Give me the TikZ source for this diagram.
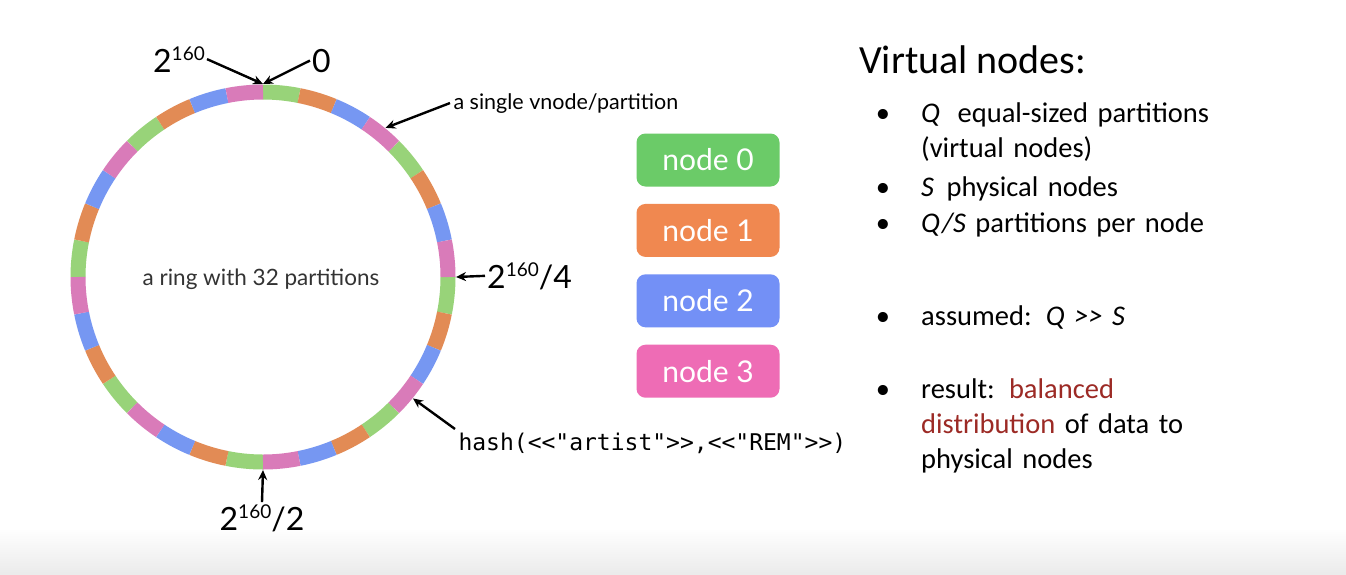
\documentclass[tikz,border=0pt]{standalone}
\usepackage{fontspec}
\setmainfont{Lato}
\newfontfamily\calibri[Ligatures=TeXOff]{Carlito}
\newfontfamily\monofont[Ligatures=TeXOff]{DejaVu Sans Mono}
\usetikzlibrary{positioning,arrows.meta}
\definecolor{ringgreen}{HTML}{98D379}
\definecolor{ringorange}{HTML}{E28B55}
\definecolor{ringblue}{HTML}{7697F2}
\definecolor{ringpink}{HTML}{D97BB9}
\definecolor{boxgreen}{HTML}{6BCB68}
\definecolor{boxorange}{HTML}{F08850}
\definecolor{boxblue}{HTML}{7390F6}
\definecolor{boxpink}{HTML}{EE6CB5}
\definecolor{darkred}{HTML}{9C2A25}
\newcommand\pw[1]{\raisebox{12pt}{\fontsize{19}{19}\selectfont #1}}

\begin{document}
\begin{tikzpicture}[x=1pt, y=-1pt,
  ptr/.style={line width=2.4pt, -{Stealth[length=10pt, width=9pt]}},
  biglbl/.style={font=\fontsize{32}{36}\selectfont, inner sep=2pt},
  vbox/.style={rounded corners=9pt, minimum width=143pt, minimum height=53pt, text=white, font=\fontsize{30}{32}\selectfont},
  item/.style={anchor=base west, text width=340pt, align=left, inner sep=0pt, font=\calibri\fontsize{28.5}{35}\selectfont},
  dot/.style={anchor=base, inner sep=0pt, font=\calibri\fontsize{28.5}{35}\selectfont}]
  \fill[white] (0,0) rectangle (1346,574);
  \shade[top color=white, bottom color=black!8] (0,528) rectangle (1346,574);

  \coordinate (c) at (263,277);
  \foreach \col [count=\i from 0] in {ringgreen,ringorange,ringblue,ringpink}
    \foreach \j in {0,...,7}
      \draw[\col, line width=15pt] (c) ++({-90+45*\j+11.25*\i}:185)
        arc[start angle={-90+45*\j+11.25*\i}, delta angle=11.25, radius=185];
  \path (c) ++(-90:193) coordinate (zeropt);
  \path (c) ++(-50.6:193) coordinate (vnodept);
  \path (c) ++(0:193) coordinate (quarterpt);
  \path (c) ++(39:193) coordinate (hashpt);
  \path (c) ++(90:193) coordinate (halfpt);

  \node[font=\fontsize{22.5}{26}\selectfont, text=black!80] (ringlbl) at (261,279) {a ring with 32 partitions};
  \node[biglbl, anchor=base east] (wrap) at (207,72) {2\pw{160}};
  \node[biglbl, anchor=base west] (zero) at (310,72) {0};
  \node[anchor=base west, font=\fontsize{21.5}{24}\selectfont] (vnode) at (450,109) {a single vnode/partition};
  \node[biglbl, anchor=base west] (quarter) at (485,288) {2\pw{160}/4};
  \node[anchor=base west, font=\monofont\fontsize{23}{26}\selectfont] (hash) at (455,450) {hash(<<"artist">>,<<"REM">>)};
  \node[biglbl, anchor=base] (half) at (262,530) {2\pw{160}/2};

  \draw[ptr] (wrap.east) -- (zeropt);
  \draw[ptr] (zero.west) -- (zeropt);
  \draw[ptr] (vnode.west) -- (vnodept);
  \draw[ptr] (quarter.west) -- (quarterpt);
  \draw[ptr] (hash.north west) -- (hashpt);
  \draw[ptr] (half.north) -- (halfpt);

  \node[vbox, fill=boxgreen] (n0) at (708,160) {node 0};
  \node[vbox, fill=boxorange, below=17pt of n0] (n1) {node 1};
  \node[vbox, fill=boxblue, below=17pt of n1] (n2) {node 2};
  \node[vbox, fill=boxpink, below=17pt of n2] (n3) {node 3};

  \node[anchor=base west, inner sep=0pt, font=\calibri\fontsize{40}{48}\selectfont] (title) at (859,73) {Virtual nodes:};
  \node[dot] (d1) at (883,122) {•};
  \node[item] (i1) at (921,122) {\textit{Q}\hspace{8pt} equal-sized partitions\\(virtual nodes)};
  \node[dot] (d2) at (883,196) {•};
  \node[item] (i2) at (921,196) {\textit{S}\hspace{3pt} physical nodes};
  \node[dot] (d3) at (883,232) {•};
  \node[item] (i3) at (921,232) {\textit{Q/S} partitions per node};
  \node[dot] (d4) at (883,325) {•};
  \node[item] (i4) at (921,325) {assumed: \textit{Q >> S}};
  \node[dot] (d5) at (883,398) {•};
  \node[item] (i5) at (921,398) {result: \textcolor{darkred}{balanced}\\\textcolor{darkred}{distribution} of data to\\physical nodes};
\end{tikzpicture}
\end{document}
